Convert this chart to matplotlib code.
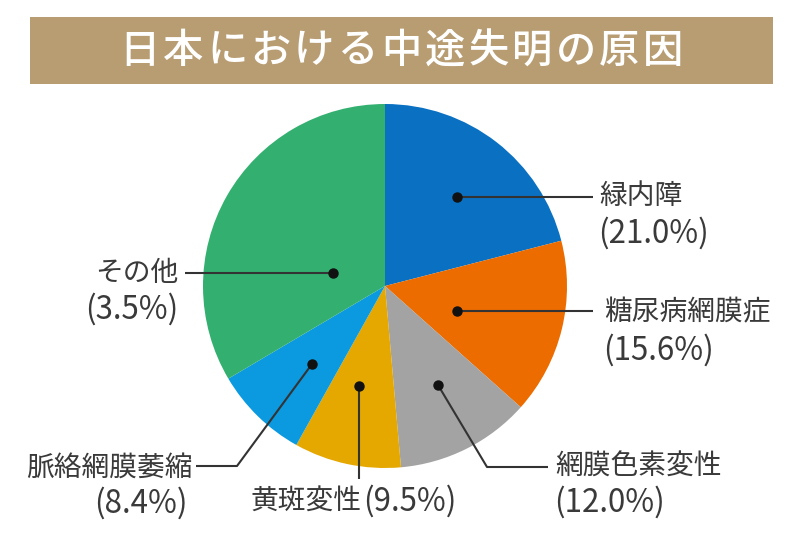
import matplotlib
matplotlib.use("Agg")
import matplotlib.pyplot as plt
from matplotlib.patches import Rectangle

plt.rcParams['font.family'] = ['Noto Sans CJK JP', 'DejaVu Sans']

# ---- data ----
title = "日本における中途失明の原因"
categories = ["緑内障", "糖尿病網膜症", "網膜色素変性", "黄斑変性", "脈絡網膜萎縮", "その他"]
values = [21.0, 15.6, 12.0, 9.5, 8.4, 33.5]
pct_labels = ["(21.0%)", "(15.6%)", "(12.0%)", "(9.5%)", "(8.4%)", "(3.5%)"]
colors = ["#0a70c2", "#ec6c00", "#a3a3a3", "#e5a800", "#0b9ae0", "#33b070"]

# ---- layout (pixel coordinates, y downwards) ----
W, H = 800, 560
center = (385, 286)
radius = 182
dots = [(457, 197), (457, 311), (438, 385), (359, 386), (312, 364), (333, 273)]
paths = [
    [(593, 197)],
    [(593, 311)],
    [(487, 467), (548, 467)],
    [(359, 479)],
    [(237, 466), (196, 466)],
    [(185, 273)],
]
text_color = "#3a3a3a"
fs = 20      # kanji labels
fs_pct = 22.5  # percent labels

fig = plt.figure(figsize=(8, 5.6), dpi=100)
ax = fig.add_axes([0, 0, 1, 1])
ax.pie(values, colors=colors, center=center, radius=radius,
       startangle=-90, counterclock=True,
       wedgeprops=dict(linewidth=0))
ax.set_xlim(0, W)
ax.set_ylim(H, 0)
ax.set_aspect('equal')
ax.axis('off')

# banner
ax.add_patch(Rectangle((30, 17), 743, 67, facecolor="#b89d73", edgecolor="none", zorder=1))
x0, step = 118, 43.6
for i, ch in enumerate(title):
    ax.text(x0 + (i + 0.5) * step, 51, ch, color="white", fontsize=29,
            fontweight="medium", ha="center", va="center", zorder=2)

# leaders
for (dx, dy), path in zip(dots, paths):
    xs = [dx] + [p[0] for p in path]
    ys = [dy] + [p[1] for p in path]
    ax.plot(xs, ys, color="#333333", lw=1.5, zorder=3, solid_capstyle="butt")
    ax.plot(dx, dy, 'o', color="#111111", markersize=6.5, zorder=4)

def t(x, y, s, ha="left", size=fs):
    return ax.text(x, y, s, fontsize=size, color=text_color, ha=ha, va="center", zorder=5)

t(599, 196, categories[0]); t(598, 233, pct_labels[0], size=fs_pct)
t(604, 312, categories[1]); t(603, 350, pct_labels[1], size=fs_pct)
t(555, 467, categories[2]); t(554, 502, pct_labels[2], size=fs_pct)
t(250, 501, categories[3]); t(363, 501, pct_labels[3], size=fs_pct)
t(193, 468, categories[4], ha="right"); t(188, 503, pct_labels[4], ha="right", size=fs_pct)
t(178, 273, categories[5], ha="right"); t(178, 309, pct_labels[5], ha="right", size=fs_pct)

fig.savefig("out.png", dpi=100, facecolor="white")
